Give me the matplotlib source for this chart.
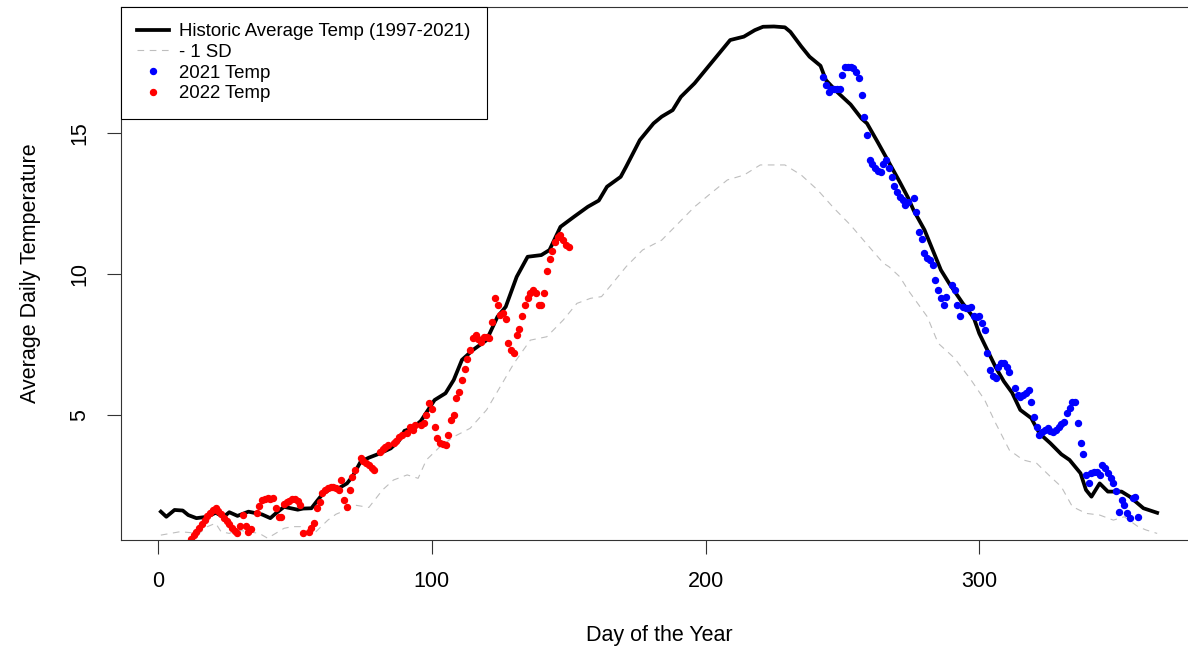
import matplotlib
matplotlib.use("Agg")
import matplotlib.pyplot as plt

plt.rcParams['font.family'] = ['Liberation Sans', 'DejaVu Sans']

# historic average (1997-2021)
hist_day = [1, 3, 6, 9, 11, 14, 18, 21, 24, 26, 29, 33, 35, 38, 41, 43, 46, 48, 51, 53,
            56, 58, 60, 63, 66, 69, 71, 74, 77, 81, 85, 88, 90, 93, 96, 101, 105, 108, 111, 115,
            120, 124, 127, 131, 135, 140, 143, 147, 152, 157, 161, 164, 169, 171, 176, 181, 184, 188, 191, 196,
            201, 205, 209, 214, 218, 221, 225, 229, 231, 235, 238, 242, 244, 248, 253, 257, 259, 263, 267, 271,
            274, 276, 280, 283, 286, 289, 294, 298, 300, 303, 306, 309, 312, 315, 319, 322, 326, 330, 333, 337,
            339, 341, 344, 347, 352, 355, 360, 365]
hist_temp = [1.59, 1.41, 1.65, 1.63, 1.47, 1.36, 1.41, 1.55, 1.41, 1.57, 1.44, 1.59, 1.55, 1.49, 1.36, 1.53, 1.76, 1.72, 1.66, 1.70,
             1.71, 1.96, 2.20, 2.40, 2.42, 2.59, 2.83, 3.36, 3.50, 3.65, 3.83, 4.10, 4.45, 4.55, 4.80, 5.54, 5.78, 6.25, 6.96, 7.31,
             7.66, 8.49, 8.84, 9.90, 10.61, 10.67, 10.85, 11.67, 12.03, 12.38, 12.60, 13.09, 13.44, 13.80, 14.74, 15.33, 15.57, 15.80, 16.27, 16.75,
             17.34, 17.81, 18.28, 18.40, 18.63, 18.75, 18.76, 18.73, 18.57, 18.05, 17.69, 17.37, 16.86, 16.45, 16.00, 15.50, 15.33, 14.65, 13.95, 13.25,
             12.70, 12.26, 11.56, 10.85, 10.14, 9.67, 8.96, 8.45, 7.90, 7.30, 6.70, 6.20, 5.80, 5.19, 4.90, 4.36, 4.01, 3.62, 3.42, 2.95,
             2.36, 2.12, 2.59, 2.30, 2.30, 2.12, 1.71, 1.55]

# historic average minus one standard deviation
sd_day = [1, 8, 15, 18, 21, 23, 26, 29, 37, 40, 46, 49, 52, 54, 57, 62, 65, 68, 72, 77,
          82, 86, 91, 95, 98, 103, 108, 114, 120, 125, 130, 136, 142, 148, 153, 158, 162, 165, 171, 177,
          184, 190, 196, 202, 208, 214, 220, 229, 235, 241, 247, 253, 259, 265, 267, 271, 274, 281, 285, 291,
          297, 302, 306, 311, 316, 321, 326, 330, 334, 339, 344, 349, 353, 358, 361, 365]
sd_temp = [0.76, 0.88, 0.82, 1.06, 1.18, 0.88, 0.82, 0.94, 0.82, 0.65, 1.00, 1.06, 1.06, 0.88, 0.82, 1.29, 1.50, 1.62, 1.82, 1.74,
           2.36, 2.71, 2.89, 2.77, 3.42, 3.89, 4.24, 4.54, 5.19, 6.01, 6.84, 7.66, 7.78, 8.37, 8.96, 9.14, 9.20, 9.55, 10.26, 10.85,
           11.20, 11.79, 12.38, 12.86, 13.33, 13.50, 13.86, 13.86, 13.50, 12.97, 12.32, 11.73, 11.05, 10.38, 10.26, 9.90, 9.43, 8.49, 7.55, 7.02,
           6.25, 5.54, 4.72, 3.77, 3.42, 3.30, 2.83, 2.47, 1.77, 1.53, 1.47, 1.29, 1.41, 1.06, 0.94, 0.82]

# 2021 daily temperatures
d21_day = [243, 244, 245, 246, 247, 248, 249, 250, 251, 252, 253, 254, 255, 256, 257, 258, 259, 260, 261, 262,
           263, 264, 265, 266, 267, 268, 269, 270, 271, 272, 273, 274, 276, 277, 278, 279, 280, 281, 282, 283,
           284, 285, 286, 287, 288, 290, 291, 292, 293, 294, 295, 296, 297, 298, 299, 300, 301, 302, 303, 304,
           305, 306, 307, 308, 309, 310, 311, 313, 314, 315, 316, 317, 318, 319, 320, 321, 322, 323, 324, 325,
           326, 327, 328, 329, 330, 331, 332, 333, 334, 335, 336, 337, 338, 339, 340, 341, 342, 343, 344, 345,
           346, 347, 348, 349, 350, 351, 352, 353, 354, 355, 356, 357, 358]
d21_temp = [16.98, 16.69, 16.45, 16.55, 16.54, 16.54, 16.54, 17.04, 17.34, 17.34, 17.34, 17.28, 17.16, 16.92, 16.33, 15.57, 14.92, 14.03, 13.89, 13.75,
            13.64, 13.62, 13.90, 14.03, 13.74, 13.44, 13.12, 12.91, 12.74, 12.62, 12.44, 12.55, 12.68, 12.20, 11.50, 11.23, 10.73, 10.56, 10.50, 10.32,
            9.79, 9.43, 9.14, 8.90, 9.20, 9.61, 9.43, 8.90, 8.52, 8.84, 8.79, 8.80, 8.84, 8.51, 8.49, 8.51, 8.28, 8.02, 7.19, 6.60,
            6.40, 6.31, 6.70, 6.84, 6.84, 6.70, 6.54, 5.96, 5.72, 5.66, 5.72, 5.78, 5.90, 5.48, 4.95, 4.60, 4.30, 4.42, 4.48, 4.54,
            4.45, 4.42, 4.48, 4.60, 4.69, 4.78, 5.07, 5.25, 5.48, 5.48, 4.72, 4.01, 3.63, 2.89, 2.59, 2.95, 3.01, 3.00, 2.89, 3.24,
            3.12, 2.95, 2.77, 2.59, 2.33, 1.59, 2.00, 1.83, 1.53, 1.36, 2.06, 2.12, 1.39]

# 2022 daily temperatures
d22_day = [12, 13, 14, 15, 16, 17, 18, 19, 20, 21, 22, 23, 24, 25, 26, 27, 28, 29, 30, 31,
           32, 33, 34, 36, 37, 38, 39, 40, 41, 42, 43, 44, 45, 46, 47, 48, 49, 50, 51, 52,
           53, 55, 56, 57, 58, 59, 60, 61, 62, 63, 64, 65, 66, 67, 68, 69, 70, 71, 72, 74,
           75, 76, 77, 78, 79, 81, 82, 83, 84, 86, 87, 88, 89, 91, 92, 93, 94, 96, 97, 98,
           99, 100, 101, 102, 103, 104, 105, 106, 107, 108, 109, 110, 111, 112, 113, 114, 115, 116, 117, 118,
           119, 120, 121, 122, 123, 124, 125, 126, 127, 128, 129, 130, 131, 132, 133, 134, 135, 136, 137, 138,
           139, 140, 141, 142, 143, 144, 145, 146, 147, 148, 149, 150]
d22_temp = [0.62, 0.75, 0.88, 1.02, 1.15, 1.30, 1.43, 1.55, 1.66, 1.73, 1.62, 1.50, 1.38, 1.26, 1.14, 1.02, 0.92, 0.82, 1.09, 1.47,
            1.09, 0.88, 0.97, 1.53, 1.80, 2.00, 2.03, 2.06, 2.05, 2.06, 1.71, 1.41, 1.41, 1.85, 1.94, 1.98, 2.03, 2.03, 1.95, 1.83,
            0.82, 0.88, 1.00, 1.18, 1.71, 1.94, 2.24, 2.36, 2.42, 2.45, 2.47, 2.42, 2.36, 2.71, 2.00, 1.77, 2.36, 2.83, 3.06, 3.50,
            3.40, 3.30, 3.24, 3.12, 3.06, 3.71, 3.80, 3.89, 3.95, 4.01, 4.10, 4.24, 4.30, 4.36, 4.60, 4.48, 4.66, 4.66, 4.72, 5.00,
            5.42, 5.24, 4.60, 4.19, 4.01, 4.00, 3.95, 4.30, 4.83, 5.00, 5.60, 5.83, 6.25, 6.63, 7.00, 7.31, 7.72, 7.84, 7.70, 7.60,
            7.78, 7.78, 7.72, 8.31, 9.14, 8.90, 8.55, 8.61, 8.40, 7.55, 7.30, 7.19, 7.84, 8.04, 8.51, 8.90, 9.14, 9.32, 9.43, 9.32,
            8.90, 8.90, 9.32, 10.12, 10.52, 10.82, 11.14, 11.30, 11.38, 11.20, 11.03, 10.95]

fig = plt.figure(figsize=(11.88, 6.56), dpi=100)
ax = fig.add_axes([121 / 1188, 1 - 540 / 656, 1076 / 1188, 533.3 / 656])

ax.plot(hist_day, hist_temp, color='black', lw=2.7, label='Historic Average Temp (1997-2021)')
ax.plot(sd_day, sd_temp, color='#BEBEBE', lw=0.8, dashes=(6, 5), label='- 1 SD')
ax.plot(d21_day, d21_temp, 'o', color='blue', ms=4.3, label='2021 Temp')
ax.plot(d22_day, d22_temp, 'o', color='red', ms=4.3, label='2022 Temp')

ax.set_xlim(-13.56, 379.56)
ax.set_ylim(0.587, 19.46)
ax.set_xticks([0, 100, 200, 300])
ax.set_yticks([5, 10, 15])
for s in ax.spines.values():
    s.set_linewidth(0.8)
    s.set_color('#333333')
ax.tick_params(length=10, width=0.8, color='#333333', labelsize=15.5)
ax.tick_params(axis='x', pad=12)
ax.tick_params(axis='y', pad=12, labelrotation=90)
for t in ax.get_yticklabels():
    t.set_va('center')

ax.set_xlabel('Day of the Year', fontsize=15.5)
ax.set_ylabel('Average Daily Temperature', fontsize=15.5)
ax.xaxis.set_label_coords(0.5, -0.159)
ax.yaxis.set_label_coords(-0.074, 0.5)

leg = ax.legend(loc='upper left', bbox_to_anchor=(0, 1), borderaxespad=0, fontsize=13.4,
                fancybox=False, framealpha=1, edgecolor='black', borderpad=0.88,
                handlelength=1.7, handletextpad=0.55, labelspacing=0.2)
leg.get_frame().set_linewidth(0.8)

fig.savefig('out.png', dpi=100)
